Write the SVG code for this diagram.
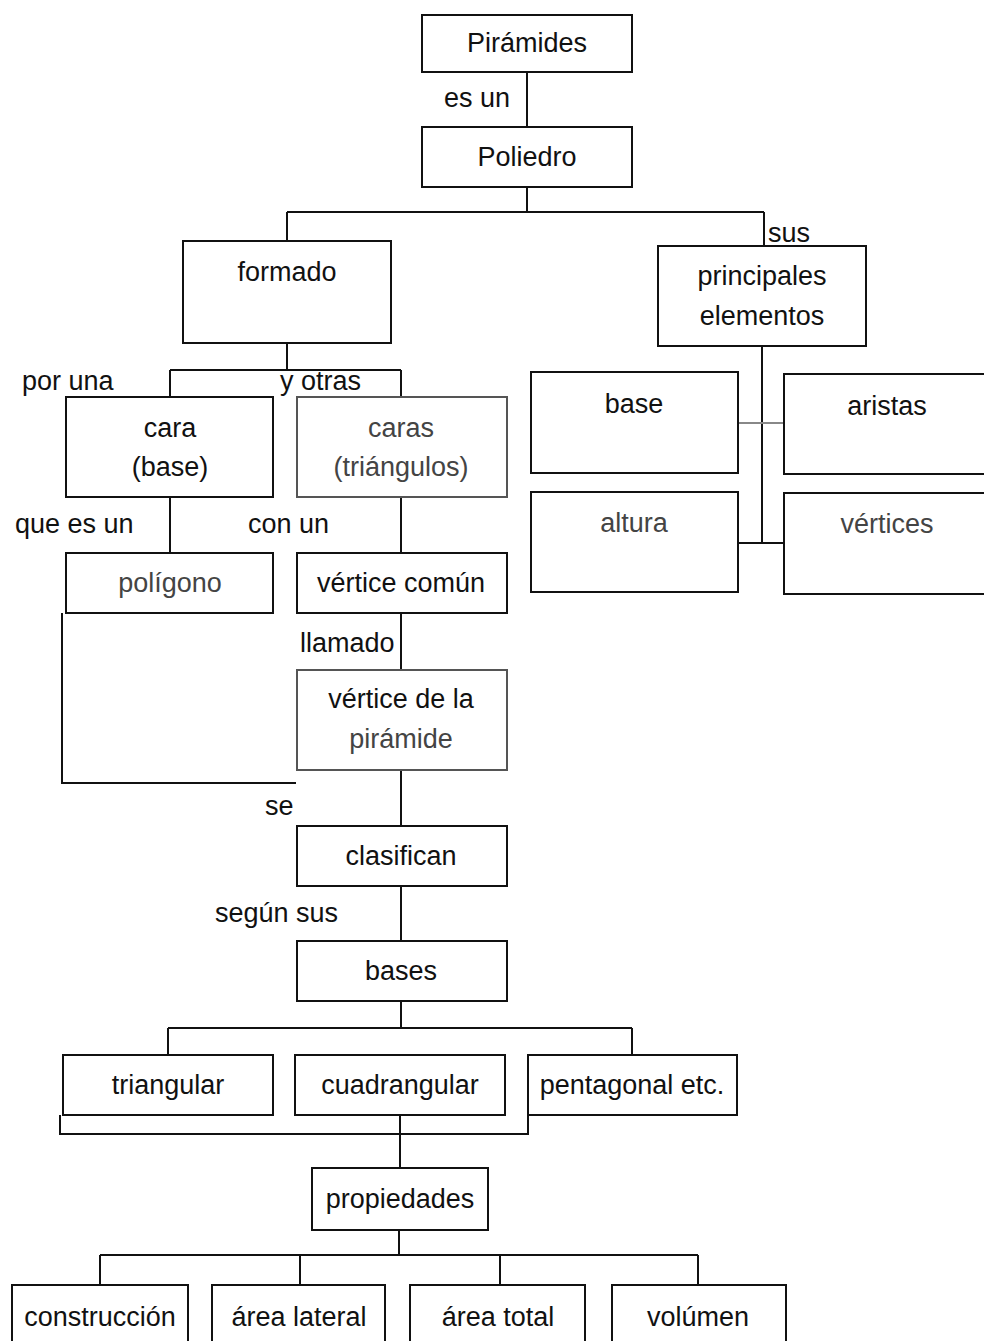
<svg xmlns="http://www.w3.org/2000/svg" width="984" height="1341" viewBox="0 0 984 1341">
<style>
.b{fill:#fff;stroke:#111;stroke-width:2}
.g{fill:#fff;stroke:#555;stroke-width:2}
.t{font-family:"Liberation Sans",Arial,sans-serif;font-size:27px;fill:#111;text-anchor:middle}
.tg{fill:#444}
.l{font-family:"Liberation Sans",Arial,sans-serif;font-size:27px;fill:#111}
.c{fill:none;stroke:#111;stroke-width:2}
</style>
<rect width="984" height="1341" fill="#fff"/>
<g id="connectors">
<path class="c" d="M527 72V127"/>
<path class="c" d="M527 187V212M287 212H764M287 212V241M764 212V246"/>
<path class="c" d="M287 343V370M170 370H401M170 370V397M401 370V397"/>
<path class="c" d="M170 497V553M401 497V553"/>
<path class="c" d="M401 613V670"/>
<path class="c" d="M62 613V783H296"/>
<path class="c" d="M401 770V826M401 886V941"/>
<path class="c" d="M401 1001V1028M168 1028H632M168 1028V1055M632 1028V1055"/>
<path class="c" d="M60 1115V1134H528V1115M400 1115V1168"/>
<path class="c" d="M399 1230V1255M100 1255H698M100 1255V1285M300 1255V1285M500 1255V1285M698 1255V1285"/>
<path class="c" d="M762 346V543M738 543H784"/>
<path d="M738 423H784" stroke="#888" stroke-width="2"/>
</g>
<g id="lbl">
<text class="t" x="477" y="107">es un</text>
<text class="l" x="768" y="242">sus</text>
<text class="l" x="22" y="390">por una</text>
<text class="l" x="280" y="390">y otras</text>
<text class="l" x="15" y="533">que es un</text>
<text class="l" x="248" y="533">con un</text>
<text class="l" x="300" y="652">llamado</text>
<text class="l" x="265" y="815">se</text>
<text class="l" x="215" y="922">según sus</text>
</g>
<g id="piramides"><rect class="b" x="422" y="15" width="210" height="57"/><text class="t" x="527" y="52">Pirámides</text></g>
<g id="poliedro"><rect class="b" x="422" y="127" width="210" height="60"/><text class="t" x="527" y="166">Poliedro</text></g>
<g id="formado"><rect class="b" x="183" y="241" width="208" height="102"/><text class="t" x="287" y="281">formado</text></g>
<g id="principales"><rect class="b" x="658" y="246" width="208" height="100"/><text class="t" x="762" y="285">principales</text><text class="t" x="762" y="325">elementos</text></g>
<g id="cara"><rect class="b" x="66" y="397" width="207" height="100"/><text class="t" x="170" y="437">cara</text><text class="t" x="170" y="476">(base)</text></g>
<g id="caras"><rect class="g" x="297" y="397" width="210" height="100"/><text class="t tg" x="401" y="437">caras</text><text class="t tg" x="401" y="476">(triángulos)</text></g>
<g id="poligono"><rect class="b" x="66" y="553" width="207" height="60"/><text class="t tg" x="170" y="592">polígono</text></g>
<g id="verticecomun"><rect class="b" x="297" y="553" width="210" height="60"/><text class="t" x="401" y="592">vértice común</text></g>
<g id="verticepiramide"><rect class="g" x="297" y="670" width="210" height="100"/><text class="t" x="401" y="708">vértice de la</text><text class="t tg" x="401" y="748">pirámide</text></g>
<g id="clasifican"><rect class="b" x="297" y="826" width="210" height="60"/><text class="t" x="401" y="865">clasifican</text></g>
<g id="bases"><rect class="b" x="297" y="941" width="210" height="60"/><text class="t" x="401" y="980">bases</text></g>
<g id="triangular"><rect class="b" x="63" y="1055" width="210" height="60"/><text class="t" x="168" y="1094">triangular</text></g>
<g id="cuadrangular"><rect class="b" x="295" y="1055" width="210" height="60"/><text class="t" x="400" y="1094">cuadrangular</text></g>
<g id="pentagonal"><rect class="b" x="528" y="1055" width="209" height="60"/><text class="t" x="632" y="1094">pentagonal etc.</text></g>
<g id="propiedades"><rect class="b" x="312" y="1168" width="176" height="62"/><text class="t" x="400" y="1208">propiedades</text></g>
<g id="construccion"><rect class="b" x="12" y="1285" width="176" height="70"/><text class="t" x="100" y="1326">construcción</text></g>
<g id="arealateral"><rect class="b" x="212" y="1285" width="173" height="70"/><text class="t" x="299" y="1326">área lateral</text></g>
<g id="areatotal"><rect class="b" x="410" y="1285" width="175" height="70"/><text class="t" x="498" y="1326">área total</text></g>
<g id="volumen"><rect class="b" x="612" y="1285" width="174" height="70"/><text class="t" x="698" y="1326">volúmen</text></g>
<g id="base"><rect class="b" x="531" y="372" width="207" height="101"/><text class="t" x="634" y="413">base</text></g>
<g id="aristas"><rect class="b" x="784" y="374" width="210" height="100"/><text class="t" x="887" y="415">aristas</text></g>
<g id="altura"><rect class="b" x="531" y="492" width="207" height="100"/><text class="t tg" x="634" y="532">altura</text></g>
<g id="vertices"><rect class="b" x="784" y="493" width="210" height="101"/><text class="t tg" x="887" y="533">vértices</text></g>
</svg>
